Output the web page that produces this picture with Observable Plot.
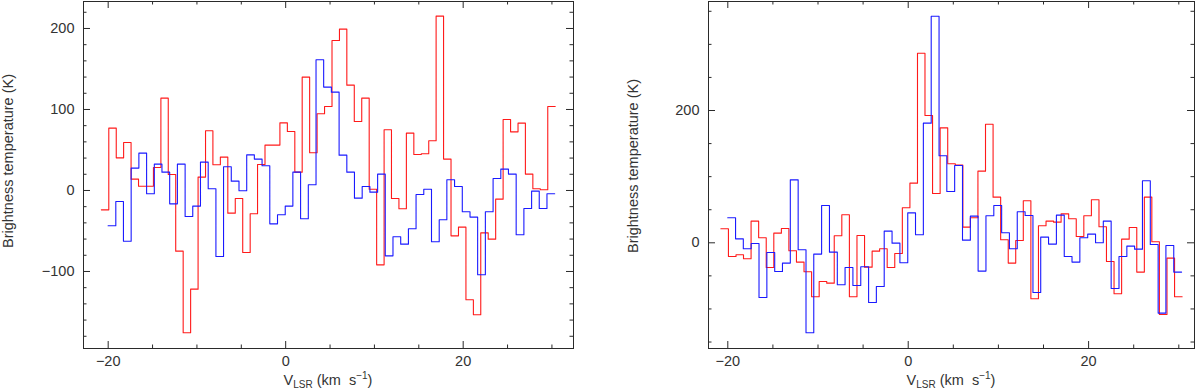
<!DOCTYPE html>
<html><head><meta charset="utf-8">
<script src="https://cdn.jsdelivr.net/npm/d3@7"></script>
<script src="https://cdn.jsdelivr.net/npm/@observablehq/plot@0.6"></script>
<style>
html,body{margin:0;padding:0;background:#fff;}
#wrap{display:flex;width:1200px;height:390px;}
#wrap svg{display:block;}
</style></head><body><div id="wrap"></div>
<script>
// Channel edges (km/s) of the two spectra grids
const redEdges = [-20.77, -19.93, -19.09, -18.26, -17.42, -16.58, -15.74, -14.90, -14.06, -13.23,
 -12.39, -11.55, -10.71, -9.87, -9.03, -8.20, -7.36, -6.52, -5.68, -4.84,
 -4.00, -3.17, -2.33, -1.49, -0.65, 0.19, 1.03, 1.86, 2.70, 3.54,
 4.38, 5.22, 6.06, 6.89, 7.73, 8.57, 9.41, 10.25, 11.09, 11.92,
 12.76, 13.60, 14.44, 15.28, 16.12, 16.95, 17.79, 18.63, 19.47, 20.31,
 21.15, 21.98, 22.82, 23.66, 24.50, 25.34, 26.18, 27.01, 27.85, 28.69,
 29.53, 30.37];
const blueEdges = [-20.01, -19.14, -18.28, -17.41, -16.54, -15.67, -14.80, -13.94, -13.07, -12.20,
 -11.33, -10.47, -9.60, -8.73, -7.86, -7.00, -6.13, -5.26, -4.39, -3.53,
 -2.66, -1.79, -0.92, -0.05, 0.81, 1.68, 2.55, 3.42, 4.28, 5.15,
 6.02, 6.89, 7.75, 8.62, 9.49, 10.36, 11.22, 12.09, 12.96, 13.83,
 14.69, 15.56, 16.43, 17.30, 18.16, 19.03, 19.90, 20.77, 21.63, 22.50,
 23.37, 24.24, 25.10, 25.97, 26.84, 27.71, 28.57, 29.44, 30.31];

// Left panel brightness temperatures (K)
const redLeft = [-23.9, 77.0, 40.3, 59.3, 14.0, 5.3, 5.3, 28.4, 114.0, 19.8,
 -74.9, -175.7, -121.8, 16.5, 73.7, 31.7, 41.2, -28.0, -9.9, -76.5,
 -28.8, 32.1, 56.0, 56.0, 83.5, 72.8, 22.6, 139.9, 46.5, 94.7,
 103.7, 185.2, 199.2, 130.0, 85.2, 114.0, 1.6, -91.8, 74.9, -9.9,
 -22.6, 70.8, 44.4, 45.3, 61.3, 215.2, 38.7, -56.0, -45.3, -135.0,
 -153.5, -52.3, -60.1, -10.7, 87.7, 72.4, 83.1, 20.2, 2.1, 0.8,
 103.7];
const blueLeft = [-43.6, -13.6, -62.6, 27.6, 46.1, -4.1, 32.5, 22.6, -16.5, 32.5,
 -32.1, -19.3, 35.0, 2.1, -81.5, 29.2, 11.5, -0.4, 44.0, 38.7,
 30.5, -41.2, -30.0, -19.3, 22.6, -35.0, 7.0, 161.3, 127.6, 121.4,
 43.6, 22.6, -9.5, 4.9, -2.1, 20.2, -80.7, -57.2, -66.3, -47.3,
 -4.9, 1.6, -63.4, -36.2, 13.2, 4.9, -26.3, -32.9, -104.1, -26.3,
 14.8, 26.3, 20.2, -54.7, -22.2, -0.8, -22.2, -4.1];

// Right panel brightness temperatures (K)
const redRight = [21.2, -20.7, -18.1, -24.2, 32.7, 7.6, -37.3, 14.6, 21.7, -12.1,
 -29.2, -43.8, -81.6, -58.4, -61.0, 10.6, 42.3, -81.6, 11.1, -36.8,
 -12.6, -9.1, -37.3, -16.1, 52.9, 90.2, 286.6, 192.4, 74.6, 173.8,
 119.4, 117.4, 23.7, 37.8, 108.3, 179.3, 69.0, 4.5, -30.7, 3.5,
 63.5, -84.6, 25.7, 32.7, 31.2, 43.8, 36.3, 9.6, 40.8, 65.0,
 24.2, -28.2, -77.1, 5.5, 23.2, -44.3, 69.0, 1.5, -108.3, -23.2,
 -81.6];
const blueRight = [37.8, 6.0, -9.1, -1.0, -82.6, -14.6, -43.3, -30.7, 95.2, -10.6,
 -136.0, -17.1, 56.4, -14.1, -63.5, -37.3, -64.5, -36.3, -90.2, -66.0,
 17.6, -0.5, -30.2, 45.3, 12.1, 180.9, 342.6, 131.5, 77.6, 116.9,
 4.0, 40.3, -42.8, 40.8, 56.4, 15.1, -9.1, 46.9, 41.3, -75.1,
 8.6, -2.0, 41.8, -20.7, -29.2, 7.6, 13.1, 0.0, 32.7, -69.0,
 -20.7, -5.0, -9.6, 93.7, -2.5, -106.3, -4.0, -44.3];

// Ticks
const xMajor = [-20, 0, 20];
const xMinor = [-15, -10, -5, 5, 10, 15, 25, 30];
const leftYMajor = [-100, 0, 100, 200];
const leftYMinor = [-180, -160, -140, -120, -80, -60, -40, -20, 20, 40, 60, 80, 120, 140, 160, 180, 220];
const rightYMajor = [0, 200];
const rightYMinor = [-150, -100, -50, 50, 100, 150, 250, 300, 350];
const yLabel = "Brightness temperature (K)";

const FONT = "'Liberation Sans', Arial, Helvetica, sans-serif";
const INK = "#2a2a2a";
const TXT = "#333";

function steps(edges, vals) {
  return edges.map((v, i) => ({v, t: vals[Math.min(i, vals.length - 1)]}));
}

function panel(o) {
  const W = 600, H = 390;
  const fw = W - o.ml - o.mr, fh = H - o.mt - o.mb;
  const tickMarks = (vals, len) => [
    Plot.ruleX(vals, {x: d => d, insetTop: fh - len, stroke: INK}),
    Plot.ruleX(vals, {x: d => d, insetBottom: fh - len, stroke: INK}),
  ];
  const tickMarksY = (vals, len) => [
    Plot.ruleY(vals, {y: d => d, insetRight: fw - len, stroke: INK}),
    Plot.ruleY(vals, {y: d => d, insetLeft: fw - len, stroke: INK}),
  ];
  const svg = Plot.plot({
    width: W, height: H,
    marginLeft: o.ml, marginRight: o.mr, marginTop: o.mt, marginBottom: o.mb,
    style: {fontFamily: FONT, fontSize: "14.5px", color: TXT, background: "#fff"},
    x: {domain: o.xd, axis: null},
    y: {domain: o.yd, axis: null},
    marks: [
      Plot.line(steps(redEdges, o.red), {x: "v", y: "t", curve: "step-after", stroke: "#ff1a1a", strokeWidth: 1.1}),
      Plot.line(steps(blueEdges, o.blue), {x: "v", y: "t", curve: "step-after", stroke: "#1a1aff", strokeWidth: 1.1}),
      ...tickMarks(xMajor, 7), ...tickMarks(xMinor, 3.5),
      ...tickMarksY(o.yMajor, 7), ...tickMarksY(o.yMinor, 3.5),
      Plot.frame({stroke: INK, strokeWidth: 1}),
      Plot.axisX({anchor: "bottom", ticks: xMajor, tickSize: 0, tickPadding: 7, label: null, fill: TXT}),
      Plot.axisY({anchor: "left", ticks: o.yMajor, tickSize: 0, tickPadding: 9, label: null, fill: TXT}),
      Plot.text([yLabel], {text: d => d, frameAnchor: "left", rotate: -90, dx: -75, dy: o.labDy, textAnchor: "middle", lineAnchor: "middle", fill: TXT, fontSize: 14.5})
    ]
  });
  const cx = o.ml + fw / 2;
  const t = d3.select(svg).append("text")
    .attr("x", cx).attr("y", 384.5).attr("text-anchor", "middle")
    .attr("font-family", FONT).attr("font-size", 14.5).attr("fill", TXT);
  t.append("tspan").text("V");
  t.append("tspan").attr("font-size", 10).attr("dy", 3.5).text("LSR");
  t.append("tspan").attr("dy", -3.5).text(" (km\u00a0\u00a0s");
  t.append("tspan").attr("font-size", 10).attr("dy", -6).text("\u22121");
  t.append("tspan").attr("dy", 6).text(")");
  return svg;
}

const wrap = document.getElementById("wrap");
wrap.appendChild(panel({
  ml: 83, mr: 27, mt: 1, mb: 42,
  xd: [-22.78, 32.43], yd: [-195.1, 233.3],
  red: redLeft, blue: blueLeft,
  yMajor: leftYMajor, yMinor: leftYMinor, labDy: -14
}));
wrap.appendChild(panel({
  ml: 108, mr: 6, mt: 1, mb: 42,
  xd: [-22.14, 31.74], yd: [-159.8, 364.8],
  red: redRight, blue: blueRight,
  yMajor: rightYMajor, yMinor: rightYMinor, labDy: -9
}));
</script></body></html>
